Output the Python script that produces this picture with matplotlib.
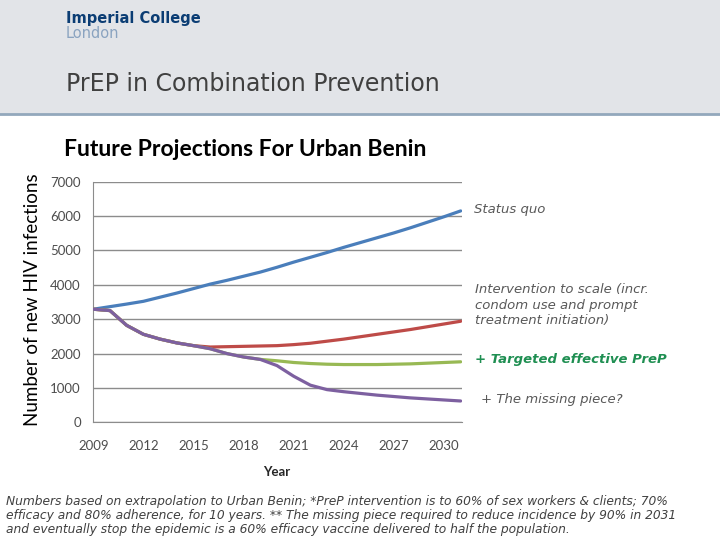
import matplotlib
matplotlib.use("Agg")
import matplotlib.pyplot as plt
from matplotlib.lines import Line2D
from matplotlib.patches import Rectangle

years = list(range(2009, 2032))
status_quo = [3290, 3365, 3440, 3520, 3640, 3760, 3890, 4020, 4130, 4250, 4370, 4510,
              4660, 4800, 4940, 5090, 5230, 5370, 5510, 5660, 5820, 5980, 6150]
scale_up = [3290, 3250, 2820, 2560, 2420, 2310, 2230, 2190, 2200, 2210, 2220, 2230,
            2260, 2300, 2360, 2420, 2490, 2560, 2630, 2700, 2780, 2860, 2940]
prep = [3290, 3250, 2820, 2560, 2420, 2310, 2230, 2140, 2000, 1900, 1830, 1790,
        1740, 1710, 1690, 1680, 1680, 1680, 1690, 1700, 1720, 1740, 1760]
missing = [3290, 3250, 2820, 2560, 2420, 2310, 2230, 2140, 2000, 1900, 1830, 1650,
           1340, 1080, 950, 890, 840, 790, 750, 710, 680, 650, 620]

series_colors = ["#4A7EBB", "#BE4B48", "#98B954", "#7D60A0"]
x_ticks = [2009, 2012, 2015, 2018, 2021, 2024, 2027, 2030]
y_ticks = [0, 1000, 2000, 3000, 4000, 5000, 6000, 7000]

fig = plt.figure(figsize=(7.2, 5.4), dpi=100)
fig.patch.set_facecolor("white")

# slide header
fig.patches.append(Rectangle((0, 1 - 114 / 540), 1, 114 / 540, transform=fig.transFigure,
                             facecolor="#E2E4E8", edgecolor="none", zorder=0))
fig.add_artist(Line2D([0, 1], [1 - 114 / 540] * 2, transform=fig.transFigure,
                      color="#93A8BC", lw=2))
fig.text(66 / 720, 1 - 18 / 540, "Imperial College", fontsize=10.5, fontweight="bold",
         color="#0B3D74", va="center", ha="left")
fig.text(66 / 720, 1 - 34 / 540, "London", fontsize=10.5,
         color="#8AA3C0", va="center", ha="left")
fig.text(66 / 720, 1 - 84 / 540, "PrEP in Combination Prevention", fontsize=17,
         color="#404040", va="center", ha="left")

# chart
ax = fig.add_axes([93.3 / 720, 1 - 422.3 / 540, 368.2 / 720, 240.6 / 540])
for vals, c in zip([status_quo, scale_up, prep, missing], series_colors):
    ax.plot(years, vals, color=c, lw=2.3, solid_capstyle="round",
            solid_joinstyle="round", zorder=3)

ax.set_xlim(2009, 2031.05)
ax.set_ylim(0, 7000)
ax.set_xticks(x_ticks)
ax.set_yticks(y_ticks)
ax.tick_params(axis="both", length=0, labelsize=9.5, labelcolor="#4D4D4D")
ax.tick_params(axis="x", pad=13)
ax.tick_params(axis="y", pad=9)
for lab in ax.get_xticklabels() + ax.get_yticklabels():
    lab.set_family("Lato")
ax.grid(axis="y", color="#8C8C8C", lw=1)
ax.set_axisbelow(True)
for s in ["top", "right"]:
    ax.spines[s].set_visible(False)
ax.spines["left"].set_color("#8C8C8C")
ax.spines["bottom"].set_color("#8C8C8C")

fig.text(245 / 720, 1 - 150 / 540, "Future Projections For Urban Benin", family="Lato",
         fontsize=16.5, fontweight="bold", color="black", ha="center", va="center")
fig.text(33 / 720, 1 - 300 / 540, "Number of new HIV infections", family="Lato",
         fontsize=13.5, rotation=90, color="black", ha="center", va="center")
fig.text(277 / 720, 1 - 472 / 540, "Year", family="Lato", fontsize=9.5,
         fontweight="bold", color="#262626", ha="center", va="center")

# annotations
grey = "#595959"
fig.text(474 / 720, 1 - 209 / 540, "Status quo", fontsize=9.5, style="italic",
         color=grey, ha="left", va="center")
fig.text(475 / 720, 1 - 305 / 540,
         "Intervention to scale (incr.\ncondom use and prompt\ntreatment initiation)",
         fontsize=9.5, style="italic", color=grey, ha="left", va="center", linespacing=1.25)
fig.text(475 / 720, 1 - 359 / 540, "+ Targeted effective PreP", fontsize=9.5,
         style="italic", fontweight="bold", color="#1F8F52", ha="left", va="center")
fig.text(481 / 720, 1 - 400 / 540, "+ The missing piece?", fontsize=9.5, style="italic",
         color=grey, ha="left", va="center")

# footnote
fig.text(6 / 720, 1 - 516 / 540,
         "Numbers based on extrapolation to Urban Benin; *PreP intervention is to 60% of sex workers & clients; 70%\n"
         "efficacy and 80% adherence, for 10 years. ** The missing piece required to reduce incidence by 90% in 2031\n"
         "and eventually stop the epidemic is a 60% efficacy vaccine delivered to half the population.",
         fontsize=8.8, style="italic", color="#404040", ha="left", va="center", linespacing=1.1)

fig.savefig("out.png", dpi=100)
